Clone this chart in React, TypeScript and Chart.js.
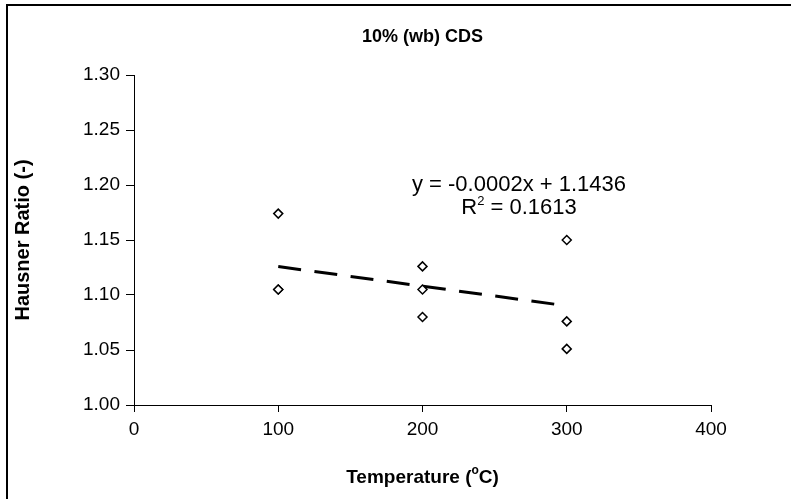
import React, { useEffect, useRef } from "react";
import { Chart, registerables } from "chart.js";

Chart.register(...registerables);

const temperatures = [100, 100, 100, 200, 200, 200, 300, 300, 300];
const hausnerRatios = [1.174, 1.105, 1.105, 1.126, 1.105, 1.080, 1.150, 1.076, 1.051];
const chartTitle = "10% (wb) CDS";
const yAxisTitle = "Hausner Ratio (-)";
const equationText = "y = -0.0002x + 1.1436";
const r2Value = "0.1613";
const xTicks = [0, 100, 200, 300, 400];
const yTicks = [1.0, 1.05, 1.1, 1.15, 1.2, 1.25, 1.3];

function linearFit(xs: number[], ys: number[]) {
  const n = xs.length;
  const mx = xs.reduce((a, b) => a + b, 0) / n;
  const my = ys.reduce((a, b) => a + b, 0) / n;
  let sxy = 0, sxx = 0;
  for (let i = 0; i < n; i++) {
    sxy += (xs[i] - mx) * (ys[i] - my);
    sxx += (xs[i] - mx) * (xs[i] - mx);
  }
  const slope = sxy / sxx;
  return { slope, intercept: my - slope * mx };
}

const FONT = "'Liberation Sans', Arial, sans-serif";

const textPlugin = {
  id: "customText",
  afterDraw(chart: any) {
    const ctx = chart.ctx;
    const area = chart.chartArea;
    const cx = (area.left + area.right) / 2;
    ctx.save();
    ctx.fillStyle = "#000";
    ctx.strokeStyle = "#000";
    ctx.lineWidth = 2;
    ctx.beginPath();
    ctx.moveTo(7, 800);
    ctx.lineTo(7, 5);
    ctx.lineTo(1000, 5);
    ctx.stroke();

    ctx.textBaseline = "middle";
    ctx.textAlign = "center";
    ctx.font = `bold 18px ${FONT}`;
    ctx.fillText(chartTitle, cx, 37);

    ctx.save();
    ctx.translate(23, (area.top + area.bottom) / 2);
    ctx.rotate(-Math.PI / 2);
    ctx.font = `bold 20px ${FONT}`;
    ctx.fillText(yAxisTitle, 0, 0);
    ctx.restore();

    const part1 = "Temperature (";
    const sup = "o";
    const part2 = "C)";
    ctx.font = `bold 19px ${FONT}`;
    const w1 = ctx.measureText(part1).width;
    const w3 = ctx.measureText(part2).width;
    ctx.font = `bold 12px ${FONT}`;
    const w2 = ctx.measureText(sup).width;
    const total = w1 + w2 + w3;
    let x = cx - total / 2;
    const y = 478;
    ctx.textAlign = "left";
    ctx.font = `bold 19px ${FONT}`;
    ctx.fillText(part1, x, y);
    x += w1;
    ctx.font = `bold 12px ${FONT}`;
    ctx.fillText(sup, x, y - 7);
    x += w2;
    ctx.font = `bold 19px ${FONT}`;
    ctx.fillText(part2, x, y);

    const ex = 519;
    ctx.textAlign = "center";
    ctx.font = `22px ${FONT}`;
    ctx.fillText(equationText, ex, 185);
    const a = "R";
    const b = "2";
    const c = " = " + r2Value;
    const wa = ctx.measureText(a).width;
    const wc = ctx.measureText(c).width;
    ctx.font = `13px ${FONT}`;
    const wb = ctx.measureText(b).width;
    let rx = ex - (wa + wb + wc) / 2;
    ctx.textAlign = "left";
    ctx.font = `22px ${FONT}`;
    ctx.fillText(a, rx, 208);
    rx += wa;
    ctx.font = `13px ${FONT}`;
    ctx.fillText(b, rx, 201);
    rx += wb;
    ctx.font = `22px ${FONT}`;
    ctx.fillText(c, rx, 208);
    ctx.restore();
  },
};

export default function App() {
  const ref = useRef<HTMLCanvasElement>(null);
  useEffect(() => {
    document.body.style.margin = "0";
    const fit = linearFit(temperatures, hausnerRatios);
    const trendX = [100, 300];
    const chart = new Chart(ref.current!, {
      type: "scatter",
      data: {
        datasets: [
          {
            label: "data",
            data: temperatures.map((t, i) => ({ x: t, y: hausnerRatios[i] })),
            pointStyle: "rectRot",
            pointRadius: 4.5,
            pointBackgroundColor: "#fff",
            pointBorderColor: "#000",
            pointBorderWidth: 1.5,
            showLine: false,
          },
          {
            label: "trend",
            type: "line",
            data: trendX.map((t) => ({ x: t, y: fit.intercept + fit.slope * t })),
            borderColor: "#000",
            borderWidth: 3,
            borderDash: [23, 13.5],
            pointRadius: 0,
            fill: false,
          },
        ],
      },
      options: {
        responsive: false,
        animation: false,
        events: [],
        layout: { padding: { left: 0, top: 75, right: 80, bottom: 0 } },
        plugins: { legend: { display: false }, tooltip: { enabled: false }, title: { display: false } },
        scales: {
          x: {
            type: "linear",
            min: 0,
            max: 400,
            afterBuildTicks: (s: any) => { s.ticks = xTicks.map((v) => ({ value: v })); },
            afterFit: (s: any) => { s.height = 94; },
            border: { color: "#000", width: 1 },
            grid: { drawOnChartArea: false, drawTicks: true, tickLength: 7, color: "#000" },
            ticks: { color: "#000", font: { family: FONT, size: 19 }, padding: 6, callback: (v: any) => String(v) },
          },
          y: {
            type: "linear",
            min: 1.0,
            max: 1.3,
            afterBuildTicks: (s: any) => { s.ticks = yTicks.map((v) => ({ value: v })); },
            afterFit: (s: any) => { s.width = 134; },
            border: { color: "#000", width: 1 },
            grid: { drawOnChartArea: false, drawTicks: true, tickLength: 8, color: "#000" },
            ticks: { color: "#000", font: { family: FONT, size: 19 }, padding: 6, callback: (v: any) => Number(v).toFixed(2) },
          },
        },
      },
      plugins: [textPlugin],
    });
    return () => chart.destroy();
  }, []);
  return (
    <div style={{ width: 791, height: 499 }}>
      <canvas ref={ref} width={791} height={499} style={{ display: "block" }} />
    </div>
  );
}
